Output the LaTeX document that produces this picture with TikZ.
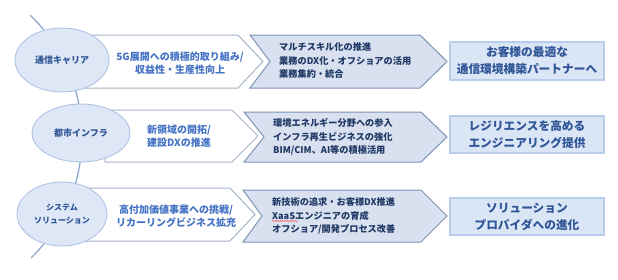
\documentclass[tikz,border=0pt]{standalone}
\usepackage{fontspec}
\newfontfamily\jp{Noto Sans CJK JP}
\usetikzlibrary{shapes.geometric,decorations.pathmorphing}
\definecolor{arcline}{HTML}{8EA9CF}
\definecolor{ellfill}{HTML}{DEE7F5}
\definecolor{elldraw}{HTML}{A8C0E3}
\definecolor{elltext}{HTML}{2F5597}
\definecolor{wdraw}{HTML}{A6B4C8}
\definecolor{wtext}{HTML}{4472C4}
\definecolor{bfill}{HTML}{D9E1F0}
\definecolor{bdraw}{HTML}{7F93B5}
\definecolor{btext}{HTML}{1F3864}
\definecolor{rfill}{HTML}{DAE5F5}
\definecolor{rdraw}{HTML}{B8CDEB}
\definecolor{rtext}{HTML}{2F5597}
\tikzset{
  ellbox/.style={ellipse, fill=ellfill, draw=elldraw, line width=0.8pt, inner sep=0pt},
  elltxt/.style={align=center, text=elltext, font=\jp\bfseries\fontsize{9}{13}\selectfont, inner sep=0pt},
  wchev/.style={fill=white, draw=wdraw, line width=1pt, line join=miter},
  wtxt/.style={align=center, text=wtext, font=\jp\bfseries\fontsize{10}{13}\selectfont, inner sep=0pt},
  bchev/.style={fill=bfill, draw=bdraw, line width=1pt, line join=miter},
  btxt/.style={align=left, text=btext, font=\jp\bfseries\fontsize{9.2}{13.5}\selectfont, inner sep=0pt, anchor=west},
  rbox/.style={fill=rfill, draw=rdraw, line width=1.5pt, inner sep=0pt},
  rtxt/.style={align=center, text=rtext, font=\jp\bfseries\fontsize{11.7}{17}\selectfont, inner sep=0pt},
}
\begin{document}
\begin{tikzpicture}[x=1pt,y=-1pt]
\useasboundingbox (0,0) rectangle (618,279);
% arc connecting the three categories
\coordinate (arcstart) at (30,15);
\draw[arcline, line width=1.3pt] (arcstart) arc[start angle=-46.2, end angle=45.7, radius=169] coordinate (arcend);

% ---------- row 1 ----------
\draw[wchev] (85,35) -- (238,35) -- (263,61.5) -- (238,88) -- (85,88) -- cycle;
\draw[bchev] (250,35) -- (420,35) -- (447,61.5) -- (420,88) -- (250,88) -- (270,61.5) -- cycle;
\node[rbox, minimum width=154pt, minimum height=38pt] (r1) at (527,61) {};
\node[ellbox, minimum width=94pt, minimum height=64pt] (e1) at (62,60) {};
\node[elltxt] (e1t) at (e1) {通信キャリア};
\node[wtxt] (w1) at (180,63) {5G展開への積極的取り組み/\\収益性・生産性向上};
\node[btxt] (b1) at (279,61) {マルチスキル化の推進\\業務のDX化・オフショアの活用\\業務集約・統合};
\node[rtxt] (r1t) at (r1) {お客様の最適な\\通信環境構築パートナーへ};

% ---------- row 2 ----------
\draw[wchev] (105,110) -- (232,110) -- (258,136) -- (232,162) -- (105,162) -- cycle;
\draw[bchev] (244,112) -- (421,112) -- (447,137) -- (421,162) -- (244,162) -- (264,137) -- cycle;
\node[rbox, minimum width=154pt, minimum height=37pt] (r2) at (527,134.5) {};
\node[ellbox, minimum width=98pt, minimum height=58pt] (e2) at (81,133) {};
\node[elltxt] (e2t) at (e2) {都市インフラ};
\node[wtxt] (w2) at (179,136) {新領域の開拓/\\建設DXの推進};
\node[btxt] (b2) at (273,137) {環境エネルギー分野への参入\\インフラ再生ビジネスの強化\\BIM/CIM、AI等の積極活用};
\node[rtxt] (r2t) at (r2) {レジリエンスを高める\\エンジニアリング提供};

% ---------- row 3 ----------
\draw[wchev] (85,188) -- (230,188) -- (255,214.5) -- (230,241) -- (85,241) -- cycle;
\draw[bchev] (243,190) -- (421,190) -- (447,216) -- (421,242) -- (243,242) -- (262,216) -- cycle;
\node[rbox, minimum width=154pt, minimum height=37pt] (r3) at (527,216.5) {};
\node[ellbox, minimum width=90pt, minimum height=64pt] (e3) at (62,214) {};
\node[elltxt, font=\jp\bfseries\fontsize{8}{13}\selectfont] (e3t) at (e3) {システム\\ソリューション};
\node[wtxt] (w3) at (176,216) {高付加価値事業への挑戦/\\リカーリングビジネス拡充};
\node[btxt] (b3) at (272,216) {新技術の追求・お客様DX推進\\XaaSエンジニアの育成\\オフショア/開発プロセス改善};
\node[rtxt] (r3t) at (r3) {ソリューション\\プロバイダへの進化};
% spell-check squiggle under XaaS
\coordinate (sq1) at ([xshift=0pt,yshift=-5pt]b3.west);
\coordinate (sq2) at ([xshift=26pt,yshift=-5pt]b3.west);
\draw[red!75, line width=0.4pt, decorate, decoration={snake, amplitude=0.6pt, segment length=2.5pt}] (sq1) -- (sq2);
\end{tikzpicture}
\end{document}
